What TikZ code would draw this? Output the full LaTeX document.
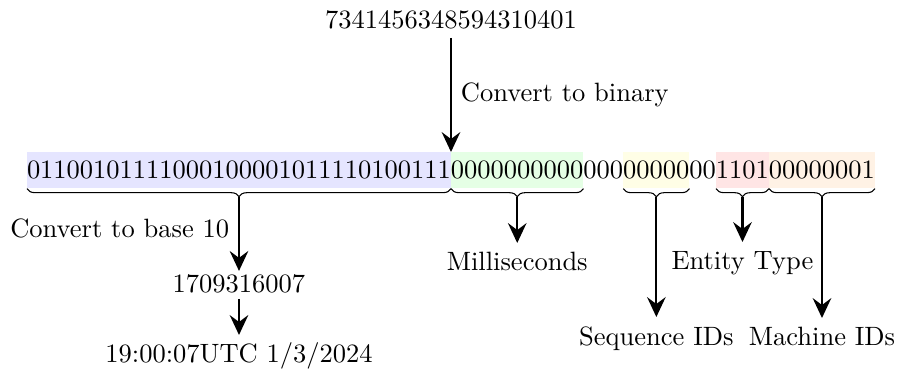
\documentclass[tikz,border=0pt]{standalone}
\usetikzlibrary{arrows.meta,decorations.pathreplacing,calc}
\begin{document}
\begin{tikzpicture}[x=0.37736pt,y=-0.37736pt,
  seg/.style={inner xsep=0pt, outer sep=0pt, anchor=west},
  arr/.style={thick,-{Stealth[length=7.5pt,width=7pt,inset=2.6pt]}},
  brc/.style={decorate,decoration={brace,mirror,amplitude=3pt,raise=0.3pt}},
  lbl/.style={anchor=north}]
\useasboundingbox (0,0) rectangle (901,379);
% binary row
\node[seg, fill=blue!10, anchor=north west] (b1) at (27,152) {01100101111000100001011110100111};
\node[seg, fill=green!10] (b2) at (b1.east) {0000000000};
\node[seg] (b3) at (b2.east) {000};
\node[seg, fill=yellow!10] (b4) at (b3.east) {00000};
\node[seg] (b5) at (b4.east) {00};
\node[seg, fill=red!10] (b6) at (b5.east) {1101};
\node[seg, fill=orange!10] (b7) at (b6.east) {00000001};
% braces
\foreach \n in {b1,b2,b4,b6,b7}{
  \draw[brc] (\n.south west) -- (\n.south east);
}
\coordinate (t1) at ([yshift=-3.3pt]b1.south);
\coordinate (t2) at ([yshift=-3.3pt]b2.south);
\coordinate (t4) at ([yshift=-3.3pt]b4.south);
\coordinate (t6) at ([yshift=-3.3pt]b6.south);
\coordinate (t7) at ([yshift=-3.3pt]b7.south);
% top number
\node[anchor=base] (top) at (b1.north east |- 0,28) {7341456348594310401};
\draw[arr] (top.south) -- node[right] (cbin) {Convert to binary} (b1.north east);
% seconds
\node[anchor=base, inner sep=1pt] (sec) at (t1 |- 0,292) {1709316007};
\draw[arr] (t1) -- node[left, pos=0.43] (cb10) {Convert to base 10} (sec.north);
\node[anchor=base, inner sep=2.5pt] (date) at (sec.base |- 0,362) {19:00:07UTC 1/3/2024};
\draw[arr, shorten <=1.2pt] (sec.south) -- (date.north);
% other labels
\node[lbl] (ms) at (t2 |- 0,243) {Milliseconds};
\draw[arr] (t2) -- (ms.north);
\node[lbl] (seq) at (t4 |- 0,317) {Sequence IDs};
\draw[arr] (t4) -- (seq.north);
\node[lbl] (ent) at (t6 |- 0,242) {Entity Type};
\draw[arr] (t6) -- (ent.north);
\node[lbl] (mac) at (t7 |- 0,318) {Machine IDs};
\draw[arr] (t7) -- (mac.north);
\end{tikzpicture}
\end{document}
